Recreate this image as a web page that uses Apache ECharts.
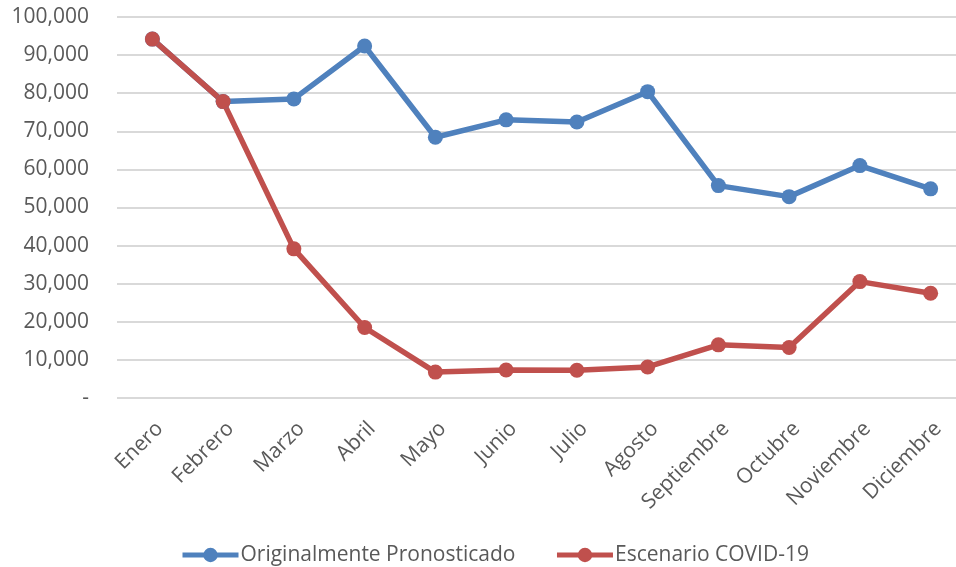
<!DOCTYPE html>
<html>
<head>
<meta charset="utf-8">
<script src="https://cdn.jsdelivr.net/npm/echarts@6/dist/echarts.min.js"></script>
<style>
html,body{margin:0;padding:0;background:#fff;overflow:hidden;width:956px;height:567px;}
#chart{width:966px;height:567px;}
</style>
</head>
<body>
<div id="chart"></div>
<script>
const categories = ['Enero','Febrero','Marzo','Abril','Mayo','Junio','Julio','Agosto','Septiembre','Octubre','Noviembre','Diciembre'];
const originalValues = [94200, 77800, 78500, 92400, 68450, 73000, 72450, 80400, 55750, 52850, 61000, 54900];
const covidValues = [94200, 77800, 39150, 18500, 6800, 7350, 7300, 8150, 13950, 13250, 30550, 27500];
const seriesNames = ['Originalmente Pronosticado', 'Escenario COVID-19'];
const yTicks = {min: 0, max: 100000, interval: 10000};

const FONT = 'Open Sans';
const chart = echarts.init(document.getElementById('chart'));
chart.setOption({
  animation: false,
  color: ['#4F81BD', '#C0504D'],
  grid: {left: 117, right: 0, top: 17, bottom: 169, containLabel: false},
  legend: {
    top: 543,
    left: 180,
    padding: 0,
    itemWidth: 56,
    itemHeight: 18,
    itemGap: 39,
    lineStyle: {width: 5},
    textStyle: {fontFamily: FONT, fontSize: 21, lineHeight: 24, color: '#595959', padding: [0,0,0,-3]},
    data: seriesNames
  },
  xAxis: {
    type: 'category',
    data: categories,
    boundaryGap: true,
    axisLine: {show: false},
    axisTick: {show: false},
    axisLabel: {
      rotate: 45, interval: 0, margin: 20, verticalAlign: 'top',
      fontFamily: FONT, fontSize: 21, color: '#595959'
    }
  },
  yAxis: {
    type: 'value',
    min: yTicks.min, max: yTicks.max, interval: yTicks.interval,
    axisLine: {show: false},
    axisTick: {show: false},
    splitLine: {lineStyle: {color: '#D9D9D9', width: 2}},
    axisLabel: {
      margin: 28,
      fontFamily: FONT, fontSize: 21, color: '#595959',
      formatter: v => v === 0 ? '-' : v.toLocaleString('en-US')
    }
  },
  series: [
    {
      name: seriesNames[0], type: 'line', data: originalValues,
      symbol: 'circle', symbolSize: 15,
      lineStyle: {width: 5.5}
    },
    {
      name: seriesNames[1], type: 'line', data: covidValues,
      symbol: 'circle', symbolSize: 15,
      lineStyle: {width: 5.5}
    }
  ]
});
</script>
</body>
</html>
